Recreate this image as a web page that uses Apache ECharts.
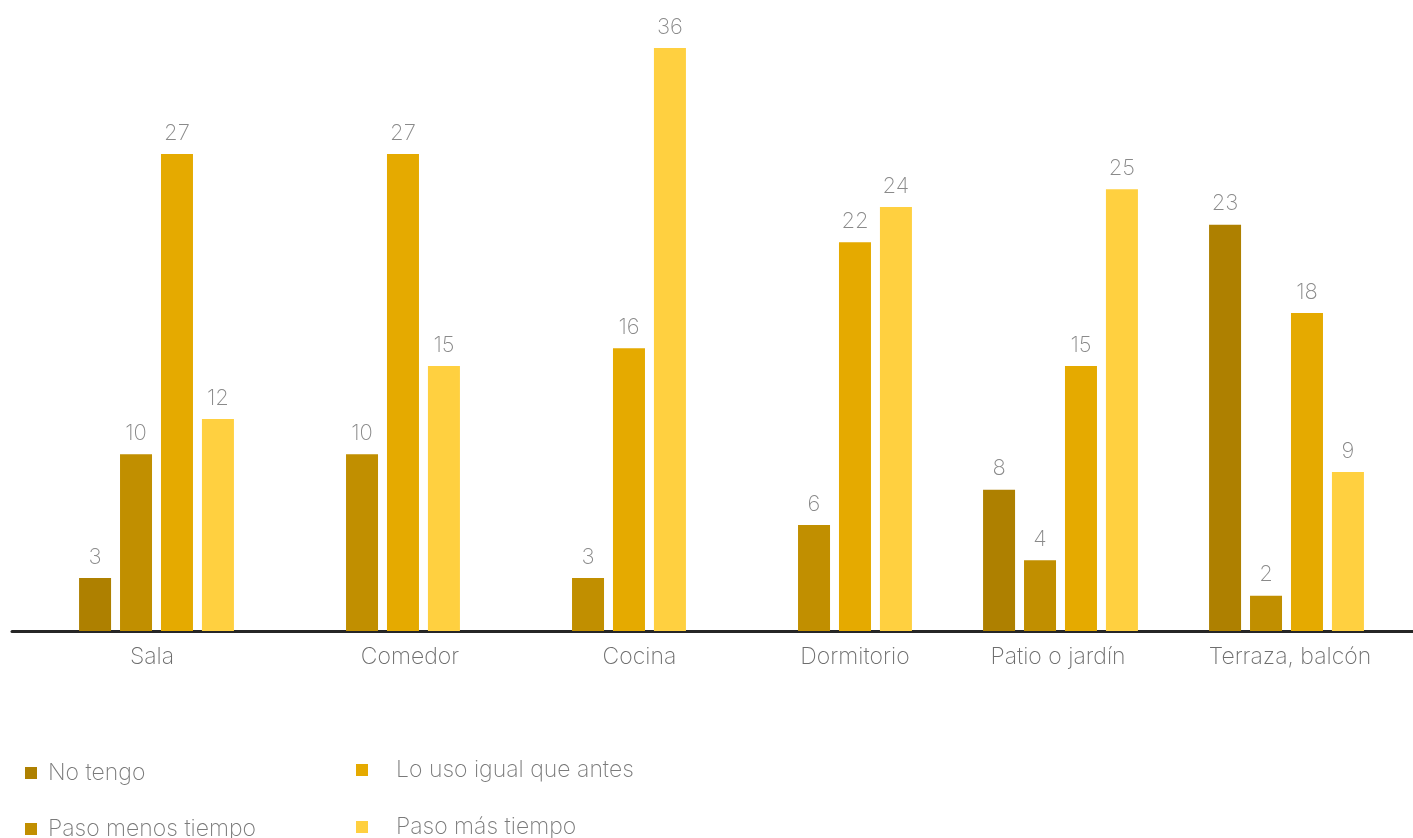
<!DOCTYPE html>
<html>
<head>
<meta charset="utf-8">
<script src="https://cdn.jsdelivr.net/npm/echarts@6/dist/echarts.min.js"></script>
<style>
html,body{margin:0;padding:0;background:#fff;}
#chart{width:1413px;height:838px;}
</style>
</head>
<body>
<div id="chart"></div>
<script>
const categories = ['Sala', 'Comedor', 'Cocina', 'Dormitorio', 'Patio o jardín', 'Terraza, balcón'];
const seriesNames = ['No tengo', 'Paso menos tiempo', 'Lo uso igual que antes', 'Paso más tiempo'];
const noTengo = [3, null, null, null, 8, 23];
const pasoMenos = [10, 10, 3, 6, 4, 2];
const loUsoIgual = [27, 27, 16, 22, 15, 18];
const pasoMas = [12, 15, 36, 24, 25, 9];
const colors = ['#AE8000', '#C18F00', '#E5AA00', '#FFD040'];

const FONT = 'Inter';
const FW = 200;
const labelPad = {
  'Sala': [0, 9, 0, 0],
  'Comedor': [0, 0, 0, 55],
  'Cocina': [0, 0, 0, 62],
  'Dormitorio': [0, 0, 0, 41],
  'Patio o jardín': [0, 5, 0, 0],
  'Terraza, balcón': [0, 0, 0, 7]
};
const rich = {};
categories.forEach((c, i) => {
  rich['c' + i] = {padding: labelPad[c], fontSize: 23, color: '#6e6e6e', fontFamily: FONT, fontWeight: FW};
});

const chart = echarts.init(document.getElementById('chart'));
const dataSets = [noTengo, pasoMenos, loUsoIgual, pasoMas];
const series = dataSets.map((d, i) => ({
  name: seriesNames[i],
  type: 'bar',
  data: d,
  barWidth: 32,
  barGap: '28%',
  clip: true,
  itemStyle: {color: colors[i]},
  label: {
    show: true,
    position: 'top',
    distance: 10,
    color: '#8a8a8a',
    fontSize: 22,
    fontFamily: FONT,
    fontWeight: FW
  }
}));

const legendPos = [
  {left: 20, top: 756, pad: 6},
  {left: 20, top: 812, pad: 6},
  {left: 351, top: 753, pad: 23},
  {left: 351, top: 810, pad: 23}
];
const legends = seriesNames.map((n, i) => ({
  data: [n],
  left: legendPos[i].left,
  top: legendPos[i].top,
  icon: 'rect',
  itemWidth: 12, itemHeight: 12,
  selectedMode: false,
  textStyle: {fontSize: 23, lineHeight: 24, color: '#7a7a7a', fontFamily: FONT, fontWeight: FW, padding: [0, 0, 0, legendPos[i].pad]}
}));

chart.setOption({
  animation: false,
  backgroundColor: '#fff',
  grid: [
    {left: 43.5, right: 13.5, top: 48, bottom: 207},
    {left: 12, right: 0, top: 48, bottom: 207}
  ],
  xAxis: [
    {
      type: 'category',
      data: categories,
      gridIndex: 0,
      axisLine: {show: false},
      axisTick: {show: false},
      axisLabel: {
        margin: 15,
        formatter: function (v) { return '{c' + categories.indexOf(v) + '|' + v + '}'; },
        rich: rich
      }
    },
    {
      type: 'value',
      gridIndex: 1,
      min: 0, max: 1,
      axisLine: {show: true, lineStyle: {color: '#262626', width: 3}},
      axisTick: {show: false},
      axisLabel: {show: false},
      splitLine: {show: false}
    }
  ],
  yAxis: [
    {type: 'value', gridIndex: 0, min: 0, max: 33, show: false, splitLine: {show: false}},
    {type: 'value', gridIndex: 1, min: 0, max: 1, show: false}
  ],
  legend: legends,
  series: series
});
</script>
</body>
</html>
